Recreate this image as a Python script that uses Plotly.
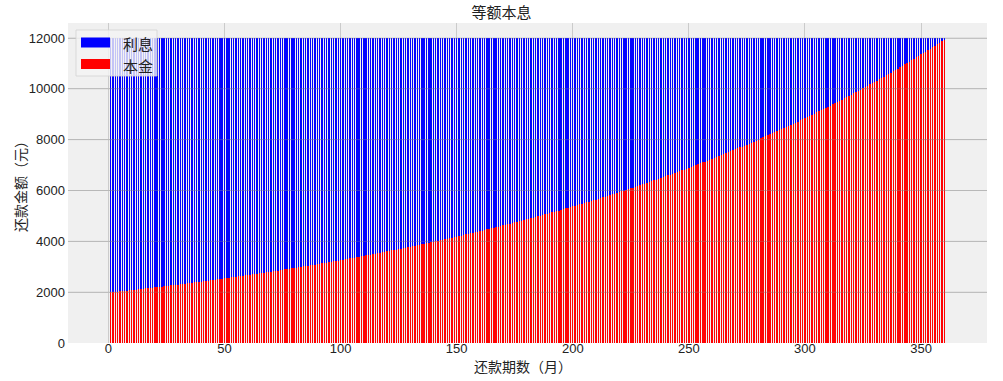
import plotly.graph_objects as go

title = "等额本息"
x_title = "还款期数（月）"
y_title = "还款金额（元）"
legend_names = ["利息", "本金"]

months = list(range(1, 361))

principal = [
    1991, 2001, 2011, 2021, 2031, 2041, 2051, 2062, 2072, 2082, 2093, 2103,
    2114, 2124, 2135, 2146, 2156, 2167, 2178, 2189, 2200, 2211, 2222, 2233,
    2244, 2255, 2267, 2278, 2289, 2301, 2312, 2324, 2336, 2347, 2359, 2371,
    2383, 2395, 2406, 2419, 2431, 2443, 2455, 2467, 2480, 2492, 2504, 2517,
    2530, 2542, 2555, 2568, 2581, 2593, 2606, 2619, 2633, 2646, 2659, 2672,
    2686, 2699, 2713, 2726, 2740, 2753, 2767, 2781, 2795, 2809, 2823, 2837,
    2851, 2865, 2880, 2894, 2909, 2923, 2938, 2953, 2967, 2982, 2997, 3012,
    3027, 3042, 3057, 3073, 3088, 3104, 3119, 3135, 3150, 3166, 3182, 3198,
    3214, 3230, 3246, 3262, 3279, 3295, 3311, 3328, 3345, 3361, 3378, 3395,
    3412, 3429, 3446, 3463, 3481, 3498, 3516, 3533, 3551, 3569, 3586, 3604,
    3622, 3641, 3659, 3677, 3695, 3714, 3732, 3751, 3770, 3789, 3808, 3827,
    3846, 3865, 3884, 3904, 3923, 3943, 3963, 3982, 4002, 4022, 4043, 4063,
    4083, 4103, 4124, 4145, 4165, 4186, 4207, 4228, 4249, 4271, 4292, 4313,
    4335, 4357, 4378, 4400, 4422, 4444, 4467, 4489, 4511, 4534, 4557, 4579,
    4602, 4625, 4648, 4672, 4695, 4718, 4742, 4766, 4790, 4814, 4838, 4862,
    4886, 4911, 4935, 4960, 4985, 5009, 5035, 5060, 5085, 5110, 5136, 5162,
    5187, 5213, 5239, 5266, 5292, 5318, 5345, 5372, 5399, 5426, 5453, 5480,
    5507, 5535, 5563, 5590, 5618, 5646, 5675, 5703, 5732, 5760, 5789, 5818,
    5847, 5876, 5906, 5935, 5965, 5995, 6025, 6055, 6085, 6116, 6146, 6177,
    6208, 6239, 6270, 6301, 6333, 6364, 6396, 6428, 6460, 6493, 6525, 6558,
    6591, 6624, 6657, 6690, 6723, 6757, 6791, 6825, 6859, 6893, 6928, 6962,
    6997, 7032, 7067, 7103, 7138, 7174, 7210, 7246, 7282, 7318, 7355, 7392,
    7429, 7466, 7503, 7541, 7578, 7616, 7654, 7693, 7731, 7770, 7809, 7848,
    7887, 7926, 7966, 8006, 8046, 8086, 8126, 8167, 8208, 8249, 8290, 8332,
    8373, 8415, 8457, 8500, 8542, 8585, 8628, 8671, 8714, 8758, 8802, 8846,
    8890, 8934, 8979, 9024, 9069, 9114, 9160, 9206, 9252, 9298, 9344, 9391,
    9438, 9485, 9533, 9580, 9628, 9676, 9725, 9773, 9822, 9871, 9921, 9970,
    10020, 10070, 10121, 10171, 10222, 10273, 10325, 10376, 10428, 10480, 10533, 10585,
    10638, 10691, 10745, 10799, 10853, 10907, 10961, 11016, 11071, 11127, 11182, 11238,
    11294, 11351, 11408, 11465, 11522, 11580, 11637, 11696, 11754, 11813, 11872, 11931,
]

interest = [
    10000, 9990, 9980, 9970, 9960, 9950, 9940, 9929, 9919, 9909, 9898, 9888,
    9877, 9867, 9856, 9845, 9835, 9824, 9813, 9802, 9791, 9780, 9769, 9758,
    9747, 9736, 9724, 9713, 9702, 9690, 9679, 9667, 9655, 9644, 9632, 9620,
    9608, 9596, 9585, 9572, 9560, 9548, 9536, 9524, 9511, 9499, 9487, 9474,
    9461, 9449, 9436, 9423, 9410, 9398, 9385, 9372, 9358, 9345, 9332, 9319,
    9305, 9292, 9278, 9265, 9251, 9238, 9224, 9210, 9196, 9182, 9168, 9154,
    9140, 9126, 9111, 9097, 9082, 9068, 9053, 9038, 9024, 9009, 8994, 8979,
    8964, 8949, 8934, 8918, 8903, 8887, 8872, 8856, 8841, 8825, 8809, 8793,
    8777, 8761, 8745, 8729, 8712, 8696, 8680, 8663, 8646, 8630, 8613, 8596,
    8579, 8562, 8545, 8528, 8510, 8493, 8475, 8458, 8440, 8422, 8405, 8387,
    8369, 8350, 8332, 8314, 8296, 8277, 8259, 8240, 8221, 8202, 8183, 8164,
    8145, 8126, 8107, 8087, 8068, 8048, 8028, 8009, 7989, 7969, 7948, 7928,
    7908, 7888, 7867, 7846, 7826, 7805, 7784, 7763, 7742, 7720, 7699, 7678,
    7656, 7634, 7613, 7591, 7569, 7547, 7524, 7502, 7480, 7457, 7434, 7412,
    7389, 7366, 7343, 7319, 7296, 7273, 7249, 7225, 7201, 7177, 7153, 7129,
    7105, 7080, 7056, 7031, 7006, 6982, 6956, 6931, 6906, 6881, 6855, 6829,
    6804, 6778, 6752, 6725, 6699, 6673, 6646, 6619, 6592, 6565, 6538, 6511,
    6484, 6456, 6428, 6401, 6373, 6345, 6316, 6288, 6259, 6231, 6202, 6173,
    6144, 6115, 6085, 6056, 6026, 5996, 5966, 5936, 5906, 5875, 5845, 5814,
    5783, 5752, 5721, 5690, 5658, 5627, 5595, 5563, 5531, 5498, 5466, 5433,
    5400, 5367, 5334, 5301, 5268, 5234, 5200, 5166, 5132, 5098, 5063, 5029,
    4994, 4959, 4924, 4888, 4853, 4817, 4781, 4745, 4709, 4673, 4636, 4599,
    4562, 4525, 4488, 4450, 4413, 4375, 4337, 4298, 4260, 4221, 4182, 4143,
    4104, 4065, 4025, 3985, 3945, 3905, 3865, 3824, 3783, 3742, 3701, 3659,
    3618, 3576, 3534, 3491, 3449, 3406, 3363, 3320, 3277, 3233, 3189, 3145,
    3101, 3057, 3012, 2967, 2922, 2877, 2831, 2785, 2739, 2693, 2647, 2600,
    2553, 2506, 2458, 2411, 2363, 2315, 2266, 2218, 2169, 2120, 2070, 2021,
    1971, 1921, 1870, 1820, 1769, 1718, 1666, 1615, 1563, 1511, 1458, 1406,
    1353, 1300, 1246, 1192, 1138, 1084, 1030, 975, 920, 864, 809, 753,
    697, 640, 583, 526, 469, 411, 354, 295, 237, 178, 119, 60,
]

x_ticks = [0, 50, 100, 150, 200, 250, 300, 350]
y_ticks = [0, 2000, 4000, 6000, 8000, 10000, 12000]

FONT = "Liberation Sans, Noto Sans CJK SC, sans-serif"
CJK = "Noto Sans CJK SC, sans-serif"

fig = go.Figure()
fig.add_trace(go.Bar(x=months, y=principal, name=legend_names[1],
                     marker=dict(color="rgba(255,0,0,0.99)", line=dict(width=0))))
fig.add_trace(go.Bar(x=months, y=interest, name=legend_names[0],
                     marker=dict(color="rgba(0,0,255,0.99)", line=dict(width=0))))

L, R, T, B = 68, 16, 23, 38
W, H = 1003, 381
pw, ph = W - L - R, H - T - B


def px(xp):
    return (xp - L) / pw


def py(yp):
    return (H - B - yp) / ph


shapes = [
    dict(type="line", xref="paper", yref="y", x0=0, x1=1, y0=v, y1=v, layer="above",
         line=dict(color="rgba(150,150,150,0.35)", width=1))
    for v in y_ticks[1:]
]
shapes += [
    dict(type="rect", xref="paper", yref="paper",
         x0=px(76), x1=px(157), y0=py(76), y1=py(30),
         fillcolor="rgba(244,244,244,0.8)", line=dict(color="rgba(210,210,210,0.8)", width=1)),
    dict(type="rect", xref="paper", yref="paper",
         x0=px(81), x1=px(110), y0=py(47.5), y1=py(37.5),
         fillcolor="#0000ff", line=dict(width=0)),
    dict(type="rect", xref="paper", yref="paper",
         x0=px(81), x1=px(110), y0=py(69), y1=py(59),
         fillcolor="#ff0000", line=dict(width=0)),
]
annotations = [
    dict(xref="paper", yref="paper", x=px(121), y=py(43), text=legend_names[0],
         showarrow=False, xanchor="left", yanchor="middle",
         font=dict(family=CJK, size=15, color="#222")),
    dict(xref="paper", yref="paper", x=px(121), y=py(65), text=legend_names[1],
         showarrow=False, xanchor="left", yanchor="middle",
         font=dict(family=CJK, size=15, color="#222")),
    dict(xref="paper", yref="paper", x=px(523), y=py(366), text=x_title,
         showarrow=False, xanchor="center", yanchor="middle",
         font=dict(family=CJK, size=14, color="#222")),
    dict(xref="paper", yref="paper", x=px(20), y=py(183), text=y_title, textangle=-90,
         showarrow=False, xanchor="center", yanchor="middle",
         font=dict(family=CJK, size=14, color="#222")),
]

fig.update_layout(
    width=W, height=H,
    margin=dict(l=L, r=R, t=T, b=B, autoexpand=False),
    barmode="stack", bargap=0.4,
    showlegend=False,
    paper_bgcolor="white", plot_bgcolor="#f0f0f0",
    font=dict(family=FONT, size=13, color="#222"),
    title=dict(text=title, x=px(527.5), xanchor="center", y=1 - 13 / H, yanchor="middle",
               font=dict(family=CJK, size=15, color="#222")),
    xaxis=dict(range=[-17.4, 378.4], tickvals=x_ticks, showgrid=True, gridcolor="#cbcbcb",
               gridwidth=1, zeroline=False, showline=False, ticks="", automargin=False,
               ticklabelstandoff=-4, tickfont=dict(size=13)),
    yaxis=dict(range=[0, 12590], tickvals=y_ticks, tickformat="d", showgrid=True,
               gridcolor="#cbcbcb", gridwidth=1, zeroline=False, showline=False, ticks="",
               automargin=False, ticklabelstandoff=2, tickfont=dict(size=13)),
    shapes=shapes,
    annotations=annotations,
)

fig.write_html("out.html", post_script="document.body.style.margin='0';",
               config={"displayModeBar": False})
